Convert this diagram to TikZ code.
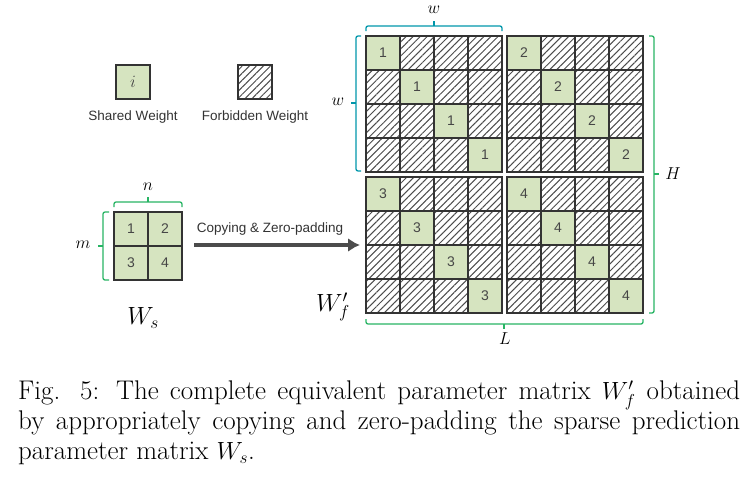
\documentclass[tikz,border=0pt]{standalone}
\usepackage{fontspec}
\newfontfamily\lsans{Liberation Sans}
\usetikzlibrary{patterns.meta,arrows.meta}
\definecolor{cellg}{RGB}{214,228,192}
\definecolor{tealc}{RGB}{0,150,170}
\definecolor{brg}{RGB}{40,180,100}
\definecolor{txg}{RGB}{70,70,70}
\tikzset{
 shared/.style={draw=black!80,line width=1.3pt,fill=cellg},
 forb/.style={draw=black!80,line width=1.3pt,pattern={Lines[angle=45,distance=5pt,line width=1pt]},pattern color=black!70},
 num/.style={font=\lsans\fontsize{14}{16}\selectfont,text=txg},
 lab/.style={font=\lsans\fontsize{13.5}{16}\selectfont,text=black!80},
 mlab/.style={font=\fontsize{17}{20}\selectfont},
 brc/.style={line width=1.3pt,rounded corners=2pt}
}
\begin{document}
\begin{tikzpicture}[x=1pt,y=-1pt]
\useasboundingbox (0,0) rectangle (756,485);
% big matrix
\foreach \bx/\by/\v in {366/36/1,507/36/2,366/177/3,507/177/4}{
 \foreach \i in {0,...,3}{\foreach \j in {0,...,3}{
  \ifnum\i=\j
   \draw[shared] (\bx+\j*34,\by+\i*34) rectangle ++(34,34);
   \node[num] at (\bx+\j*34+17,\by+\i*34+17) {\v};
  \else
   \draw[forb] (\bx+\j*34,\by+\i*34) rectangle ++(34,34);
  \fi}}}
% braces
\draw[brc,tealc] (366,31) -- (366,26) -- (502,26) -- (502,31);
\draw[tealc,line width=1.3pt] (434,26) -- (434,21);
\node[mlab] at (434,10) {$w$};
\draw[brc,tealc] (361,36) -- (356,36) -- (356,171) -- (361,171);
\draw[tealc,line width=1.3pt] (356,103) -- (351,103);
\node[mlab] at (338,102) {$w$};
\draw[brc,brg] (649,36) -- (654,36) -- (654,313) -- (649,313);
\draw[brg,line width=1.3pt] (654,174) -- (659,174);
\node[mlab] at (673,174) {$H$};
\draw[brc,brg] (366,319) -- (366,324) -- (643,324) -- (643,319);
\draw[brg,line width=1.3pt] (504,324) -- (504,329);
\node[mlab] at (505,339) {$L$};
\node[font=\fontsize{26}{30}\selectfont] at (333,307) {$W'_f$};
% legend
\draw[shared] (116,65) rectangle (150,99);
\node[mlab,text=txg] at (133,82) {$i$};
\node[lab] at (133,117) {Shared Weight};
\draw[forb] (238,65) rectangle (272,99);
\node[lab] at (255,117) {Forbidden Weight};
% Ws
\foreach \i/\j/\v in {0/0/1,0/1/2,1/0/3,1/1/4}{
 \draw[shared] (114+\j*34,212+\i*34) rectangle ++(34,34);
 \node[num] at (114+\j*34+17,212+\i*34+17) {\v};}
\draw[brc,brg] (114,207) -- (114,202) -- (182,202) -- (182,207);
\draw[brg,line width=1.3pt] (148,202) -- (148,197);
\node[mlab] at (148,187) {$n$};
\draw[brc,brg] (109,212) -- (103,212) -- (103,280) -- (109,280);
\draw[brg,line width=1.3pt] (103,246) -- (98,246);
\node[mlab] at (83,245) {$m$};
\node[font=\fontsize{26}{30}\selectfont] at (143,318) {$W_s$};
\coordinate (a1) at (194,245);
\coordinate (a2) at (360,245);
\draw[line width=4.5pt,black!70,-{Latex[length=12pt,width=14pt]}] (a1) -- (a2);
\node[lab] at (270,229) {Copying \& Zero-padding};
% caption
\node[anchor=north west,inner sep=0pt,text width=722pt,align=justify,font=\fontsize{27}{30}\selectfont] at (18,381)
 {Fig. 5: The complete equivalent parameter matrix $W'_f$ obtained by appropriately copying and zero-padding the sparse prediction parameter matrix $W_s$.};
\end{tikzpicture}
\end{document}
